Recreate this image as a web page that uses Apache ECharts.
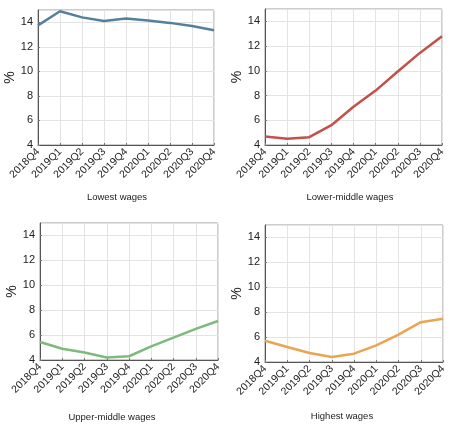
<!DOCTYPE html>
<html>
<head>
<meta charset="utf-8">
<script src="https://cdn.jsdelivr.net/npm/echarts@6/dist/echarts.min.js"></script>
<style>
  html, body { margin: 0; padding: 0; background: #fff; }
  #chart { width: 460px; height: 427px; }
</style>
</head>
<body>
<div id="chart"></div>
<script>
const quarters = ["2018Q4", "2019Q1", "2019Q2", "2019Q3", "2019Q4", "2020Q1", "2020Q2", "2020Q3", "2020Q4"];

const lowest = [13.75, 14.9, 14.4, 14.1, 14.3, 14.15, 13.95, 13.7, 13.35];
const lowerMiddle = [4.68, 4.5, 4.63, 5.6, 7.1, 8.4, 9.95, 11.45, 12.8];
const upperMiddle = [5.45, 4.9, 4.6, 4.2, 4.3, 5.1, 5.8, 6.5, 7.13];
const highest = [5.7, 5.2, 4.72, 4.4, 4.67, 5.33, 6.2, 7.2, 7.47];

const panelTitles = ["Lowest wages", "Lower-middle wages", "Upper-middle wages", "Highest wages"];
const panelColors = ["#55809b", "#c4504b", "#7dba7c", "#e9a550"];
const panelData = [lowest, lowerMiddle, upperMiddle, highest];

const grids = [
  { left: 38, top: 10, width: 176, height: 135 },
  { left: 265, top: 9, width: 177, height: 136 },
  { left: 40, top: 223, width: 178, height: 137 },
  { left: 265, top: 225, width: 178, height: 137 },
];
// caption centres below each panel
const titlePos = [[117, 197], [350, 197], [112, 417], [342, 416]];

const font = "Liberation Sans, Arial, sans-serif";

const chart = echarts.init(document.getElementById("chart"));

chart.setOption({
  animation: false,
  grid: grids.map(g => ({ ...g, show: true, borderColor: "#9a9a9a", borderWidth: 1 })),
  graphic: panelTitles.map((t, i) => ({
    type: "text",
    x: titlePos[i][0],
    y: titlePos[i][1],
    style: {
      text: t,
      fill: "#222",
      font: "9.5px " + font,
      textAlign: "center",
      textVerticalAlign: "middle",
    },
  })),
  xAxis: grids.map((g, i) => ({
    type: "category",
    gridIndex: i,
    data: quarters,
    boundaryGap: false,
    axisLine: { lineStyle: { color: "#555", width: 1 } },
    axisTick: { show: true, inside: true, length: 2, lineStyle: { color: "#777" } },
    axisLabel: { rotate: 45, fontFamily: font, fontSize: 10.5, color: "#222", margin: 5, interval: 0 },
    splitLine: { show: true, lineStyle: { color: "#e3e3e3", width: 1 } },
  })),
  yAxis: grids.map((g, i) => ({
    type: "value",
    gridIndex: i,
    min: 4,
    max: 15,
    interval: 2,
    name: "%",
    nameLocation: "middle",
    nameGap: 20,
    nameRotate: 90,
    nameTextStyle: { fontFamily: font, fontSize: 14, color: "#222" },
    axisLine: { show: true, lineStyle: { color: "#555", width: 1 } },
    axisTick: { show: true, inside: true, length: 2, lineStyle: { color: "#777" } },
    axisLabel: { fontFamily: font, fontSize: 11, color: "#222", margin: 5, showMaxLabel: false },
    splitLine: { show: true, lineStyle: { color: "#e3e3e3", width: 1 } },
  })),
  series: panelData.map((d, i) => ({
    type: "line",
    xAxisIndex: i,
    yAxisIndex: i,
    data: d,
    symbol: "none",
    lineStyle: { color: panelColors[i], width: 2.5 },
  })),
});
</script>
</body>
</html>
